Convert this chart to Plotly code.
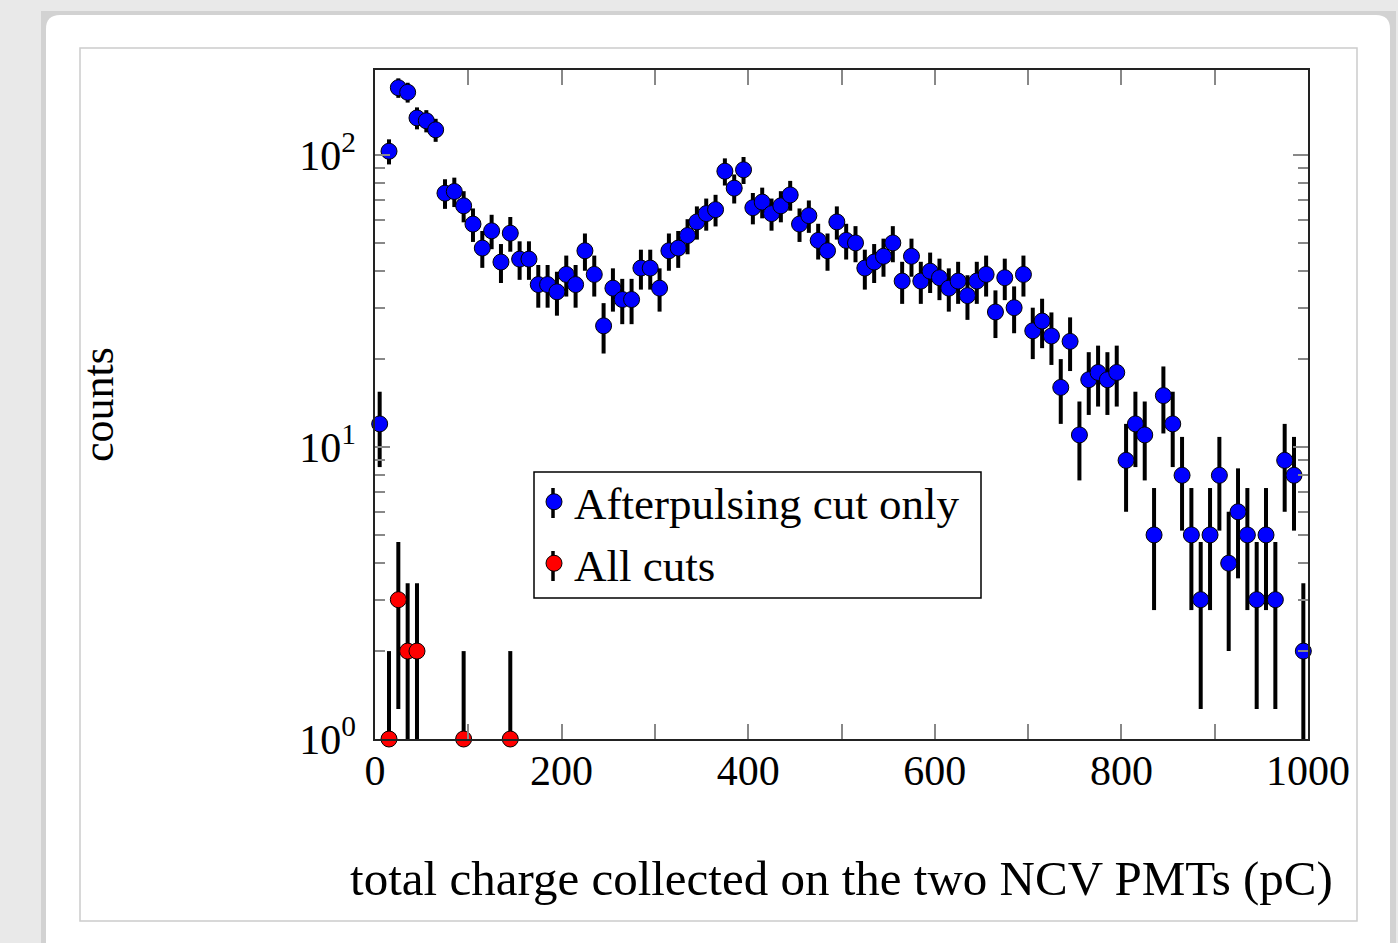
import math
import plotly.graph_objects as go

# ---------------- data ----------------
bin_centers = list(range(5, 1000, 10))  # 10 pC bins, 0-1000 pC

afterpulsing_cut_only = [12, 103, 170, 164, 134, 131, 122, 74, 75, 67,
                         58, 48, 55, 43, 54, 44, 44, 36, 36, 34,
                         39, 36, 47, 39, 26, 35, 32, 32, 41, 41,
                         35, 47, 48, 53, 59, 63, 65, 88, 77, 89,
                         66, 69, 63, 67, 73, 58, 62, 51, 47, 59,
                         51, 50, 41, 43, 45, 50, 37, 45, 37, 40,
                         38, 35, 37, 33, 37, 39, 29, 38, 30, 39,
                         25, 27, 24, 16, 23, 11, 17, 18, 17, 18,
                         9, 12, 11, 5, 15, 12, 8, 5, 3, 5,
                         8, 4, 6, 5, 3, 5, 3, 9, 8, 2]

all_cuts_x = [15, 25, 35, 45, 95, 145]
all_cuts = [1, 3, 2, 2, 1, 1]

y_tickvals = [1, 10, 100]
y_ticktext = ["10<sup>0</sup>", "10<sup>1</sup>", "10<sup>2</sup>"]
y_minor = [2, 3, 4, 5, 6, 7, 8, 9, 20, 30, 40, 50, 60, 70, 80, 90]
x_tickvals = [0, 200, 400, 600, 800, 1000]

Y_FLOOR = 1.0  # lower edge of log axis


def err_up(vals):
    return [math.sqrt(v) for v in vals]


def err_down(vals):
    return [min(math.sqrt(v), v - Y_FLOOR) for v in vals]


# ---------------- geometry (pixels) ----------------
W, H = 1398, 943
L, R, T, B = 375, 1308, 70, 739
PW, PH = R - L, B - T


def px(x):
    return (x - L) / PW


def py(y):
    return (B - y) / PH


FONT = "Liberation Serif"

fig = go.Figure()

fig.add_trace(go.Scatter(
    x=bin_centers, y=afterpulsing_cut_only, mode="markers",
    name="Afterpulsing cut only",
    marker=dict(color="#0000ff", size=16, line=dict(color="black", width=1)),
    error_y=dict(type="data", array=err_up(afterpulsing_cut_only),
                 arrayminus=err_down(afterpulsing_cut_only),
                 color="black", thickness=4, width=0),
    cliponaxis=False,
))
fig.add_trace(go.Scatter(
    x=all_cuts_x, y=all_cuts, mode="markers",
    name="All cuts",
    marker=dict(color="#ff0000", size=16, line=dict(color="black", width=1)),
    error_y=dict(type="data", array=err_up(all_cuts),
                 arrayminus=err_down(all_cuts),
                 color="black", thickness=4, width=0),
    cliponaxis=False,
))

shapes = []
# drop shadow of the panel
shapes.append(dict(type="rect", xref="paper", yref="paper",
                   x0=px(41), x1=px(1396), y0=py(960), y1=py(11),
                   fillcolor="#d2d2d2", line=dict(width=0), layer="below"))
# white rounded panel
x0, x1, y0, y1, r = 46, 1390, 15, 960, 14
path = (f"M {px(x0 + r)},{py(y0)} L {px(x1 - r)},{py(y0)} "
        f"Q {px(x1)},{py(y0)} {px(x1)},{py(y0 + r)} "
        f"L {px(x1)},{py(y1)} L {px(x0)},{py(y1)} L {px(x0)},{py(y0 + r)} "
        f"Q {px(x0)},{py(y0)} {px(x0 + r)},{py(y0)} Z")
shapes.append(dict(type="path", xref="paper", yref="paper", path=path,
                   fillcolor="white", line=dict(width=0), layer="below"))
# inner thin border
shapes.append(dict(type="rect", xref="paper", yref="paper",
                   x0=px(80), x1=px(1357), y0=py(921), y1=py(48),
                   fillcolor="white", line=dict(color="#cccccc", width=1.5),
                   layer="below"))
# legend frame
shapes.append(dict(type="rect", xref="paper", yref="paper",
                   x0=px(534), x1=px(981), y0=py(598), y1=py(472),
                   fillcolor="white", line=dict(color="black", width=1.5),
                   layer="above"))
# error-bar stubs in legend symbols
for cy in (503, 566):
    shapes.append(dict(type="line", xref="paper", yref="paper",
                       x0=px(553), x1=px(553), y0=py(cy - 15), y1=py(cy + 15),
                       line=dict(color="black", width=3.5), layer="above"))

fig.update_layout(
    width=W, height=H,
    margin=dict(l=L, r=W - R, t=T, b=H - B),
    paper_bgcolor="#e9e9e9",
    plot_bgcolor="white",
    font=dict(family=FONT, color="black", size=42),
    showlegend=True,
    legend=dict(
        x=px(534), y=py(466), xanchor="left", yanchor="top",
        bgcolor="rgba(0,0,0,0)", borderwidth=0,
        font=dict(family=FONT, size=45, color="black"),
        tracegroupgap=0,
    ),
    shapes=shapes,
)

fig.update_xaxes(
    range=[0, 1000],
    tickvals=x_tickvals,
    ticks="inside", ticklen=15, tickwidth=2, tickcolor="#888888",
    minor=dict(dtick=100, ticks="inside", ticklen=15, tickwidth=2,
               tickcolor="#888888"),
    showgrid=False, zeroline=False,
    showline=True, linecolor="#222222", linewidth=1.5, mirror="allticks",
    tickfont=dict(family=FONT, size=42, color="black"),
    ticklabelstandoff=-6,
    title=dict(text="total charge collected on the two NCV PMTs (pC)",
               font=dict(family=FONT, size=49, color="black"), standoff=68),
)

fig.update_yaxes(
    type="log",
    range=[0, math.log10(195.5)],
    tickvals=y_tickvals, ticktext=y_ticktext,
    ticks="inside", ticklen=15, tickwidth=2, tickcolor="#888888",
    minor=dict(tickvals=y_minor, ticks="inside", ticklen=10, tickwidth=2,
               tickcolor="#888888"),
    showgrid=False, zeroline=False,
    showline=True, linecolor="#222222", linewidth=1.5, mirror="allticks",
    tickfont=dict(family=FONT, size=42, color="black"),
    ticklabelstandoff=9,
    title=dict(text="counts", font=dict(family=FONT, size=44, color="black"),
               standoff=172),
)

fig.write_html("out.html")
